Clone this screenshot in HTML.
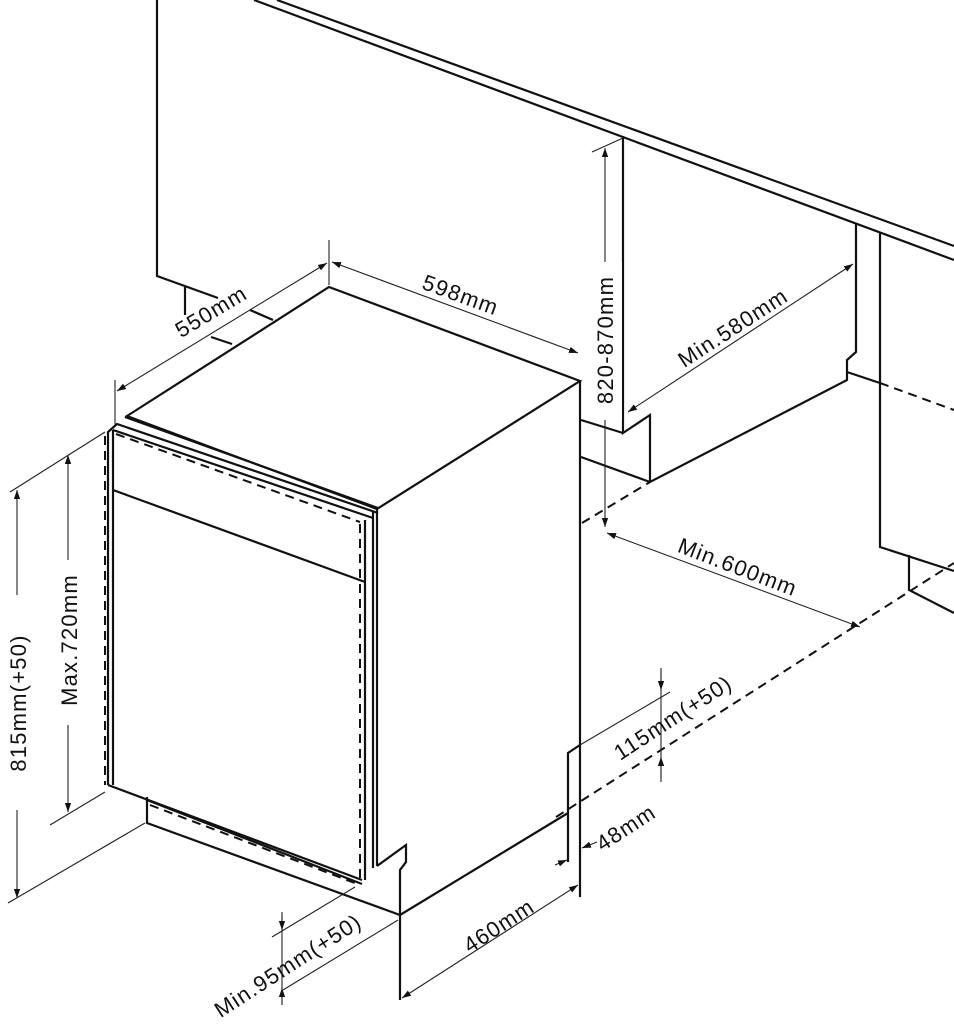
<!DOCTYPE html>
<html><head><meta charset="utf-8"><style>
html,body{margin:0;padding:0;background:#fff;}
svg{display:block;}
text{font-family:"Liberation Sans",Arial,sans-serif;font-size:22px;fill:#111;letter-spacing:1.2px;}
</style></head><body>
<svg width="954" height="1024" viewBox="0 0 954 1024" xmlns="http://www.w3.org/2000/svg">
<defs>
<marker id="a" viewBox="0 0 10 10" refX="10" refY="5" markerWidth="9" markerHeight="9" orient="auto-start-reverse" markerUnits="userSpaceOnUse"><path d="M0,1.5 L10,5 L0,8.5 z" fill="#111"/></marker>
</defs>
<g stroke="#111" fill="none" stroke-width="2.2" stroke-linejoin="miter">
<line x1="277" y1="0" x2="954" y2="246"/>
<line x1="254" y1="0" x2="954" y2="260"/>
<polyline points="157,0 157,276 218,298"/>
<line x1="185" y1="287" x2="185" y2="315"/>
<line x1="250" y1="310" x2="273" y2="320"/>
<line x1="211" y1="337" x2="232" y2="344"/>
<polyline points="623,136 623,433 650,415 650,482 847,380 847,360 856,352 856,224"/>
<line x1="581" y1="420" x2="623" y2="433"/>
<line x1="581" y1="457" x2="650" y2="482"/>
<line x1="847" y1="372" x2="880" y2="383"/>
<polyline points="880,233 880,547 954,571"/>
<polyline points="909,555 909,590 954,613"/>
<polygon points="329,287 580,381 377,509 127,416"/>
<line x1="580" y1="381" x2="580" y2="897"/>
<polyline points="580,745 568,753 568,862"/>
<line x1="568" y1="813" x2="400" y2="915"/>
<polyline points="400,1000 400,870 406,862 406,845 377,866"/>
<line x1="377" y1="509" x2="377" y2="866"/>
<line x1="373" y1="512" x2="373" y2="868"/>
<polyline points="108,785 108,432 117,424 378,513"/>
<line x1="113" y1="430" x2="113" y2="785"/>
<line x1="113" y1="430" x2="373" y2="518"/>
<line x1="125" y1="417" x2="378" y2="508"/>
<line x1="113" y1="490" x2="365" y2="582"/>
<line x1="365" y1="520" x2="365" y2="880"/>
<line x1="108" y1="785" x2="362" y2="880"/>
<polyline points="147,797 147,823 400,915"/>
<line x1="147" y1="800" x2="362" y2="884"/>
</g>
<g stroke="#111" fill="none" stroke-width="2" stroke-dasharray="9,6">
<line x1="582" y1="523" x2="650" y2="482"/>
<line x1="880" y1="383" x2="954" y2="410"/>
<line x1="556" y1="817" x2="954" y2="563"/>
<line x1="360" y1="524" x2="360" y2="880"/>
<line x1="105" y1="436" x2="105" y2="785"/>
<line x1="116" y1="434" x2="360" y2="522"/>
<line x1="150" y1="805" x2="360" y2="885"/>
</g>
<g stroke="#222" fill="none" stroke-width="1.1">
<line x1="115" y1="380" x2="115" y2="425"/>
<line x1="329" y1="240" x2="329" y2="285"/>
<line x1="117" y1="391" x2="327" y2="263" marker-start="url(#a)" marker-end="url(#a)"/>
<line x1="332" y1="262" x2="578" y2="353" marker-start="url(#a)" marker-end="url(#a)"/>
<line x1="592" y1="152" x2="623" y2="138"/>
<line x1="605" y1="148" x2="605" y2="527" marker-start="url(#a)" marker-end="url(#a)"/>
<line x1="628" y1="412" x2="853" y2="264" marker-start="url(#a)" marker-end="url(#a)"/>
<line x1="607" y1="533" x2="860" y2="627" marker-start="url(#a)" marker-end="url(#a)"/>
<line x1="661" y1="668" x2="661" y2="782"/>
<line x1="580" y1="745" x2="670" y2="692"/>
<line x1="661" y1="670" x2="661" y2="690" marker-end="url(#a)"/>
<line x1="661" y1="778" x2="661" y2="757" marker-end="url(#a)"/>
<line x1="555" y1="865" x2="567" y2="860" marker-end="url(#a)"/>
<line x1="597" y1="842" x2="582" y2="848" marker-end="url(#a)"/>
<line x1="402" y1="998" x2="578" y2="885" marker-start="url(#a)" marker-end="url(#a)"/>
<line x1="272" y1="937" x2="355" y2="887"/>
<line x1="283" y1="990" x2="398" y2="920"/>
<line x1="282" y1="912" x2="282" y2="1005"/>
<line x1="282" y1="915" x2="282" y2="930" marker-end="url(#a)"/>
<line x1="282" y1="1003" x2="282" y2="988" marker-end="url(#a)"/>
<line x1="10" y1="492" x2="105" y2="432"/>
<line x1="8" y1="903" x2="145" y2="823"/>
<line x1="17" y1="490" x2="17" y2="898" marker-start="url(#a)" marker-end="url(#a)"/>
<line x1="50" y1="825" x2="105" y2="792"/>
<line x1="68" y1="455" x2="68" y2="812" marker-start="url(#a)" marker-end="url(#a)"/>
</g>
<g>
<rect x="0" y="595" width="36" height="215" fill="#fff"/>
<rect x="52" y="560" width="34" height="165" fill="#fff"/>
<rect x="588" y="262" width="34" height="158" fill="#fff"/>
<text transform="translate(215,318) rotate(-31)" text-anchor="middle">550mm</text>
<text transform="translate(458,302) rotate(20)" text-anchor="middle">598mm</text>
<text transform="translate(613,340) rotate(-90)" text-anchor="middle">820-870mm</text>
<text transform="translate(737,334) rotate(-33)" text-anchor="middle">Min.580mm</text>
<text transform="translate(735,574) rotate(21)" text-anchor="middle">Min.600mm</text>
<text transform="translate(677,724) rotate(-33)" text-anchor="middle">115mm(+50)</text>
<text transform="translate(630,834) rotate(-33)" text-anchor="middle">48mm</text>
<text transform="translate(503,932) rotate(-33)" text-anchor="middle">460mm</text>
<text transform="translate(292,972) rotate(-33)" text-anchor="middle">Min.95mm(+50)</text>
<text transform="translate(26,703) rotate(-90)" text-anchor="middle">815mm(+50)</text>
<text transform="translate(77,640) rotate(-90)" text-anchor="middle">Max.720mm</text>
</g>
</svg>
</body></html>
